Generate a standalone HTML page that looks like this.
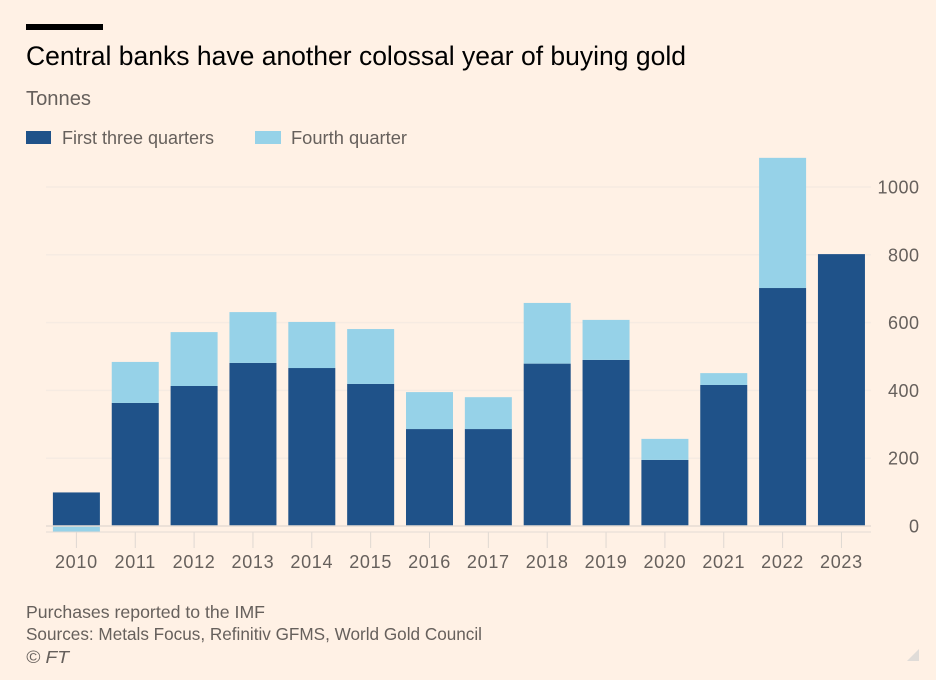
<!DOCTYPE html>
<html lang="en">
<head>
<meta charset="utf-8">
<title>Central banks gold buying</title>
<style>
html,body{margin:0;padding:0;background:#fff1e5;}
body{width:936px;height:680px;overflow:hidden;}
svg{display:block;font-family:"Liberation Sans",sans-serif;}
</style>
</head>
<body>
<svg id="chart" width="936" height="680" viewBox="0 0 936 680" xmlns="http://www.w3.org/2000/svg">
  <rect x="0" y="0" width="936" height="680" fill="#fff1e5"/>
  <rect x="26" y="24" width="77" height="6" fill="#000"/>
  <text x="26" y="65" font-size="26.5" fill="#000" textLength="660" lengthAdjust="spacingAndGlyphs">Central banks have another colossal year of buying gold</text>
  <text x="26" y="105" font-size="20" fill="#66605c" textLength="65" lengthAdjust="spacingAndGlyphs">Tonnes</text>
  <rect x="26" y="131" width="25" height="13" fill="#1f5289"/>
  <text x="62" y="144" font-size="18" fill="#66605c" textLength="152" lengthAdjust="spacingAndGlyphs">First three quarters</text>
  <rect x="255" y="131" width="26" height="13" fill="#96d2e8"/>
  <text x="291" y="144" font-size="18" fill="#66605c" textLength="116" lengthAdjust="spacingAndGlyphs">Fourth quarter</text>
  <g id="grid"></g>
  <g id="bars"></g>
  <g id="xaxis"></g>
  <g id="yaxis"></g>
  <text x="26" y="618" font-size="17.5" fill="#66605c" textLength="239" lengthAdjust="spacingAndGlyphs">Purchases reported to the IMF</text>
  <text x="26" y="640" font-size="17.5" fill="#66605c" textLength="456" lengthAdjust="spacingAndGlyphs">Sources: Metals Focus, Refinitiv GFMS, World Gold Council</text>
  <text x="26" y="663" font-size="17.5" font-style="italic" fill="#66605c" textLength="43" lengthAdjust="spacingAndGlyphs">© FT</text>
  <polygon points="919,649 919,661 907,661" fill="#e0dcd8"/>
</svg>
<script>
var years = ['2010','2011','2012','2013','2014','2015','2016','2017','2018','2019','2020','2021','2022','2023'];
var firstThreeQuarters = [99,363,413,481,466,419,286,286,479,490,195,416,702,802];
var fourthQuarter = [-18,121,159,150,136,162,109,94,179,118,62,35,384,0];
var yTicks = [0,200,400,600,800,1000];

var NS = 'http://www.w3.org/2000/svg';
function xScale(i){ return 76.4 + 58.85 * i; }
function yScale(v){ return 526 - 0.339 * v; }
function make(tag, parent, attrs){
  var el = document.createElementNS(NS, tag);
  for (var k in attrs) el.setAttribute(k, attrs[k]);
  parent.appendChild(el);
  return el;
}
var gridG = document.getElementById('grid');
var barsG = document.getElementById('bars');
var xG = document.getElementById('xaxis');
var yG = document.getElementById('yaxis');
var BAR_W = 47;

yTicks.forEach(function(t){
  var y = yScale(t);
  if (t !== 0) {
    var line = make('line', gridG, {x1:46, x2:871, y1:y, y2:y, stroke:'#f6ebe2', 'stroke-width':1.5});
    
    
  }
  var label = make('text', yG, {x:919.5, y:y + 6.5, 'font-size':18, 'letter-spacing':0.5, 'text-anchor':'end', fill:'#66605c'});
  label.textContent = String(t);
  
  
});

years.forEach(function(year, i){
  var cx = xScale(i);
  var a = firstThreeQuarters[i];
  var b = fourthQuarter[i];
  var main = make('rect', barsG, {x:cx - BAR_W / 2, y:yScale(a), width:BAR_W, height:yScale(0) - yScale(a), fill:'#1f5289'});
  
  
  if (b !== 0) {
    var top = b > 0 ? yScale(a + b) : yScale(0);
    var bottom = b > 0 ? yScale(a) : yScale(b);
    var q4 = make('rect', barsG, {x:cx - BAR_W / 2, y:top, width:BAR_W, height:bottom - top, fill:'#96d2e8'});
    
    
  }
  var tick = make('line', xG, {x1:cx, x2:cx, y1:532, y2:548, stroke:'#dfd8d2', 'stroke-width':1});
  
  
  var label = make('text', xG, {x:cx, y:568, 'font-size':18, 'letter-spacing':0.7, 'text-anchor':'middle', fill:'#66605c'});
  label.textContent = year;
  
  
});

var zero = make('line', xG, {x1:46, x2:871, y1:yScale(0), y2:yScale(0), stroke:'#e6dcd4', 'stroke-width':1.5});


var axis = make('line', xG, {x1:46, x2:871, y1:532, y2:532, stroke:'#e3dbd5', 'stroke-width':1});


</script>
</body>
</html>
